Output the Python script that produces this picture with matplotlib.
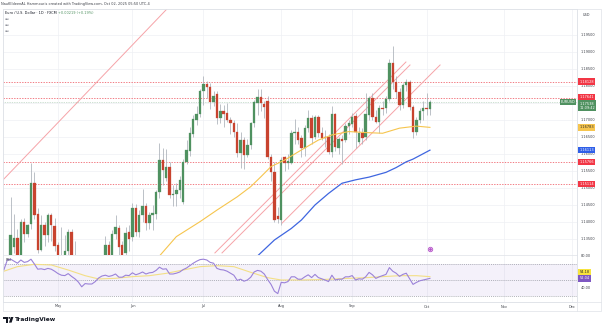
import matplotlib
matplotlib.use("Agg")
import matplotlib.pyplot as plt
import matplotlib.transforms as mtransforms
from matplotlib.patches import Polygon, Rectangle, Circle
import numpy as np
import pandas as pd

# EUR/USD daily candles, FXCM feed, sessions from 9 Apr 2025 to 2 Oct 2025
first_session = "2025-04-09"

opens = [1.1037, 1.0955, 1.1190, 1.1326, 1.1352, 1.1285, 1.1400, 1.1364, 1.1394, 1.1514,
         1.1423, 1.1318, 1.1391, 1.1362, 1.1420, 1.1388, 1.1332, 1.1290, 1.1298, 1.1316,
         1.1371, 1.1300, 1.1226, 1.1250, 1.1089, 1.1185, 1.1173, 1.1187, 1.1163, 1.1243,
         1.1285, 1.1332, 1.1282, 1.1364, 1.1382, 1.1332, 1.1310, 1.1370, 1.1357, 1.1440,
         1.1371, 1.1420, 1.1447, 1.1396, 1.1420, 1.1423, 1.1489, 1.1582, 1.1528, 1.1563,
         1.1479, 1.1482, 1.1494, 1.1458, 1.1577, 1.1610, 1.1659, 1.1700, 1.1718, 1.1786,
         1.1806, 1.1798, 1.1754, 1.1776, 1.1707, 1.1726, 1.1720, 1.1700, 1.1690, 1.1666,
         1.1603, 1.1641, 1.1597, 1.1627, 1.1690, 1.1751, 1.1768, 1.1747, 1.1756, 1.1590,
         1.1548, 1.1418, 1.1406, 1.1592, 1.1573, 1.1574, 1.1661, 1.1666, 1.1646, 1.1617,
         1.1676, 1.1705, 1.1651, 1.1710, 1.1661, 1.1650, 1.1651, 1.1607, 1.1718, 1.1617,
         1.1645, 1.1641, 1.1682, 1.1688, 1.1712, 1.1636, 1.1663, 1.1651, 1.1715, 1.1764,
         1.1710, 1.1695, 1.1735, 1.1734, 1.1762, 1.1867, 1.1813, 1.1783, 1.1744, 1.1803,
         1.1813, 1.1737, 1.1666, 1.1700, 1.1727, 1.1734, 1.1732]
highs = [1.1100, 1.1214, 1.1474, 1.1424, 1.1380, 1.1408, 1.1412, 1.1395, 1.1573, 1.1548,
         1.1441, 1.1420, 1.1400, 1.1425, 1.1425, 1.1412, 1.1340, 1.1385, 1.1363, 1.1380,
         1.1380, 1.1345, 1.1275, 1.1260, 1.1200, 1.1265, 1.1228, 1.1210, 1.1287, 1.1295,
         1.1360, 1.1345, 1.1375, 1.1420, 1.1390, 1.1345, 1.1385, 1.1390, 1.1455, 1.1453,
         1.1435, 1.1497, 1.1455, 1.1430, 1.1450, 1.1495, 1.1632, 1.1617, 1.1615, 1.1575,
         1.1510, 1.1515, 1.1535, 1.1585, 1.1641, 1.1680, 1.1715, 1.1742, 1.1790, 1.1828,
         1.1815, 1.1808, 1.1785, 1.1786, 1.1747, 1.1745, 1.1750, 1.1710, 1.1700, 1.1690,
         1.1665, 1.1650, 1.1645, 1.1695, 1.1760, 1.1792, 1.1790, 1.1755, 1.1770, 1.1600,
         1.1575, 1.1445, 1.1590, 1.1595, 1.1600, 1.1670, 1.1703, 1.1680, 1.1655, 1.1685,
         1.1729, 1.1715, 1.1715, 1.1715, 1.1680, 1.1670, 1.1660, 1.1741, 1.1722, 1.1650,
         1.1655, 1.1690, 1.1700, 1.1720, 1.1722, 1.1680, 1.1675, 1.1780, 1.1770, 1.1780,
         1.1730, 1.1745, 1.1755, 1.1770, 1.1880, 1.1918, 1.1830, 1.1795, 1.1810, 1.1820,
         1.1818, 1.1745, 1.1710, 1.1735, 1.1755, 1.1779, 1.1760]
lows = [1.0955, 1.0950, 1.1190, 1.1310, 1.1264, 1.1265, 1.1342, 1.1355, 1.1380, 1.1410,
        1.1310, 1.1315, 1.1330, 1.1340, 1.1345, 1.1315, 1.1265, 1.1270, 1.1290, 1.1300,
        1.1280, 1.1200, 1.1195, 1.1065, 1.1082, 1.1165, 1.1130, 1.1130, 1.1150, 1.1210,
        1.1270, 1.1250, 1.1265, 1.1350, 1.1290, 1.1265, 1.1210, 1.1315, 1.1345, 1.1360,
        1.1355, 1.1400, 1.1375, 1.1380, 1.1376, 1.1410, 1.1470, 1.1510, 1.1520, 1.1470,
        1.1448, 1.1448, 1.1470, 1.1452, 1.1570, 1.1595, 1.1650, 1.1685, 1.1710, 1.1745,
        1.1766, 1.1733, 1.1740, 1.1687, 1.1690, 1.1680, 1.1695, 1.1658, 1.1650, 1.1590,
        1.1560, 1.1555, 1.1590, 1.1615, 1.1680, 1.1715, 1.1725, 1.1705, 1.1585, 1.1520,
        1.1400, 1.1398, 1.1391, 1.1550, 1.1555, 1.1570, 1.1630, 1.1630, 1.1590, 1.1595,
        1.1665, 1.1630, 1.1645, 1.1650, 1.1640, 1.1620, 1.1600, 1.1590, 1.1610, 1.1600,
        1.1571, 1.1635, 1.1660, 1.1680, 1.1617, 1.1630, 1.1630, 1.1640, 1.1700, 1.1700,
        1.1690, 1.1663, 1.1715, 1.1720, 1.1755, 1.1790, 1.1765, 1.1728, 1.1735, 1.1785,
        1.1730, 1.1646, 1.1655, 1.1690, 1.1700, 1.1715, 1.1715]
closes = [1.0955, 1.1190, 1.1362, 1.1352, 1.1285, 1.1400, 1.1364, 1.1392, 1.1514, 1.1420,
          1.1318, 1.1391, 1.1363, 1.1420, 1.1392, 1.1329, 1.1290, 1.1298, 1.1316, 1.1371,
          1.1300, 1.1226, 1.1250, 1.1089, 1.1185, 1.1173, 1.1187, 1.1163, 1.1243, 1.1285,
          1.1332, 1.1282, 1.1364, 1.1386, 1.1327, 1.1292, 1.1368, 1.1349, 1.1442, 1.1371,
          1.1420, 1.1447, 1.1396, 1.1420, 1.1425, 1.1489, 1.1582, 1.1553, 1.1563, 1.1479,
          1.1482, 1.1495, 1.1523, 1.1577, 1.1612, 1.1662, 1.1703, 1.1718, 1.1786, 1.1806,
          1.1798, 1.1754, 1.1771, 1.1707, 1.1725, 1.1719, 1.1700, 1.1690, 1.1666, 1.1603,
          1.1641, 1.1597, 1.1627, 1.1690, 1.1754, 1.1768, 1.1750, 1.1739, 1.1590, 1.1548,
          1.1406, 1.1410, 1.1582, 1.1573, 1.1578, 1.1661, 1.1666, 1.1641, 1.1617, 1.1676,
          1.1705, 1.1647, 1.1710, 1.1661, 1.1647, 1.1648, 1.1607, 1.1718, 1.1621, 1.1643,
          1.1639, 1.1682, 1.1690, 1.1710, 1.1666, 1.1662, 1.1646, 1.1717, 1.1764, 1.1710,
          1.1695, 1.1734, 1.1733, 1.1762, 1.1867, 1.1813, 1.1783, 1.1744, 1.1803, 1.1813,
          1.1737, 1.1666, 1.1700, 1.1727, 1.1734, 1.17319, 1.17538]

# RSI(14), one value per session
rsi14 = [63, 75, 76, 73.5, 71, 75, 72, 73, 76, 70,
         63.5, 64, 63, 64.5, 63.5, 61, 58, 56, 55.5, 58,
         54.5, 51.5, 47.5, 41.5, 45.5, 45, 45, 48, 52.5, 55,
         56, 54.5, 55.5, 57.5, 53.5, 53.5, 56, 55.5, 59, 56.5,
         58, 60, 57.5, 59, 59.5, 62, 66, 63.5, 64, 57.5,
         57.5, 58.5, 60, 63, 65, 68, 71, 73.5, 75.5, 76,
         75, 72, 71, 64.5, 63, 62.5, 61, 58.5, 56, 49.5,
         51, 48.5, 50, 53.5, 60, 62, 61, 57.5, 50.5, 44.5,
         36, 33, 47, 46.5, 48, 54, 54, 51, 51, 54,
         56.5, 53, 57, 53, 51.5, 50, 48, 56, 50, 51,
         51, 54, 54, 55.5, 50, 51.5, 51, 54, 59.5, 56.5,
         52, 54, 55.5, 57, 65.5, 61, 58.5, 54.5, 57, 58.5,
         51.5, 44.5, 47, 49, 50, 51, 52.04]

# RSI-based moving average, read at sparse sessions
rsi_ma_bars = [0, 4, 9, 14, 19, 24, 28, 33, 38, 43, 48, 53, 58, 63, 68, 73, 78, 82,
               88, 93, 98, 102, 107, 112, 117, 122, 126]
rsi_ma = [61, 66.7, 69.6, 68.8, 62.5, 55.4, 51.3, 52.1, 54.2, 55.4, 58.3, 62.5, 66.7,
          67.9, 66.7, 59.6, 52.9, 50.0, 50.0, 50.4, 51.3, 52.1, 52.9, 54.2, 55.4, 55.4, 54.18]

# price moving averages, read at sparse sessions
sma50_bars = [46, 51, 58, 63, 69, 73, 76, 79, 83, 88, 93, 97, 102, 107, 112, 117, 122, 126]
sma50 = [1.1300, 1.1357, 1.1401, 1.1435, 1.1474, 1.1504, 1.1533, 1.1563, 1.1582, 1.1612,
         1.1641, 1.1656, 1.1666, 1.1663, 1.1661, 1.1676, 1.1682, 1.16783]
sma100_bars = [75, 80, 85, 88, 92, 96, 100, 104, 108, 113, 116, 119, 121, 126]
sma100 = [1.1300, 1.1347, 1.1381, 1.1406, 1.1450, 1.1484, 1.1514, 1.1524, 1.1532, 1.1546,
          1.1560, 1.1577, 1.1585, 1.16113]

# horizontal support / resistance levels
levels = [1.18128, 1.17641, 1.15766, 1.15114]

# hand-drawn trend lines: (bar, price) anchors
trend_lines = [
    ((-0.3, 1.15235), (48.2, 1.20265)),
    ((62.4, 1.1309), (118.9, 1.18706)),
    ((64.5, 1.1309), (120.1, 1.18618)),
    ((82.3, 1.1397), (129.0, 1.18618)),
]

last_change = "+0.00219 (+0.19%)"
countdown = "11:09:42"
month_names = ["May", "Jun", "Jul", "Aug", "Sep", "Oct", "Nov", "Dec"]

UP = "#4f9160"
DOWN = "#c8432f"
WICK = "#aab0b8"
GRID = "#eef0f4"
FRAME = "#dfe2e8"
LEVEL = "#f0646e"
TREND = "#f6a3a8"
TXT = "#3c3f47"
FS = 2.5

W, H = 602, 330
fig = plt.figure(figsize=(W / 100, H / 100), dpi=100)
fig.patch.set_facecolor("white")


def box(x0, y0, x1, y1):
    return fig.add_axes([x0 / W, 1 - y1 / H, (x1 - x0) / W, (y1 - y0) / H])


ax = box(3, 9, 577, 255)
ax_rsi = box(3, 255, 577, 302)
ax_ps = box(577, 9, 601, 255)
ax_rs = box(577, 255, 601, 302)

n = len(closes)
x = np.arange(n)
o, h, l, c = map(np.array, (opens, highs, lows, closes))

sessions = pd.bdate_range(first_session, "2025-12-31")
month_pos = [int(np.flatnonzero(sessions.month == m)[0]) for m in range(5, 13)]

xlim = (-0.28, 169.5)
p_lim = (1.13029, 1.20265)
r_lim = (22.5, 81.25)

for a in (ax, ax_rsi):
    a.set_xlim(*xlim)
    a.set_facecolor("white")
    for s in a.spines.values():
        s.set_color(FRAME)
        s.set_linewidth(0.5)
    a.tick_params(length=0, labelleft=False, labelbottom=False)
    a.set_yticks([])
    for m in month_pos:
        a.axvline(m, color=GRID, lw=0.5, zorder=0)
ax.set_ylim(*p_lim)
ax_rsi.set_ylim(*r_lim)

price_ticks = np.round(np.arange(1.135, 1.1951, 0.005), 3)
for t in price_ticks:
    ax.axhline(t, color=GRID, lw=0.5, zorder=0)

# candles
up = c >= o
colors = np.where(up, UP, DOWN)
ax.vlines(x, l, h, color=WICK, lw=0.55, zorder=2)
body_lo = np.minimum(o, c)
body_h = np.maximum(np.abs(c - o), 0.00004)
ax.bar(x, body_h, bottom=body_lo, width=0.72, color=colors, edgecolor=colors,
       linewidth=0.2, zorder=3)

# moving averages
ax.plot(sma50_bars, sma50, color="#f6c54e", lw=0.8, zorder=4)
ax.plot(sma100_bars, sma100, color="#3f66e0", lw=0.9, zorder=4)

# levels and drawings
for lv in levels:
    ax.axhline(lv, color=LEVEL, lw=0.6, ls=(0, (1.6, 1.6)), zorder=1)
for (x0, y0), (x1, y1) in trend_lines:
    ax.plot([x0, x1], [y0, y1], color=TREND, lw=0.7, zorder=1)
ax.axhline(c[-1], color=UP, lw=0.5, ls=(0, (1, 1.5)), alpha=0.55, zorder=1)

# event marker near the bottom of the price pane
ev = mtransforms.blended_transform_factory(ax.transData, ax.transAxes)
ax.plot([126], [0.025], transform=ev, marker="o", ms=3.2, mfc="white",
        mec="#b450c8", mew=0.6, zorder=6, clip_on=False)
ax.plot([126], [0.025], transform=ev, marker="o", ms=1.0, color="#b450c8", zorder=7,
        clip_on=False)

ax.annotate("EURUSD", xy=(1.0, c[-1]), xycoords=("axes fraction", "data"),
            xytext=(-1.2, 0), textcoords="offset points", ha="right", va="center",
            fontsize=FS, color="white", zorder=8,
            bbox=dict(boxstyle="square,pad=0.3", fc=UP, ec="none"))

# RSI pane
ax_rsi.axhspan(30, 70, color="#7e57c2", alpha=0.08, lw=0, zorder=0)
for lv in (70, 50, 30):
    ax_rsi.axhline(lv, color="#9598a1", lw=0.5, ls=(0, (1.5, 1.5)), zorder=1)
ax_rsi.plot(rsi_ma_bars, rsi_ma, color="#f3df86", lw=0.8, zorder=2)
ax_rsi.plot(x, rsi14, color="#9b82d8", lw=0.8, zorder=3)
ax_rsi.text(0.005, 0.93, "RSI", transform=ax_rsi.transAxes, fontsize=FS, color=TXT,
            va="top", ha="left")

# time axis
ax_rsi.set_xticks(month_pos)
ax_rsi.set_xticklabels(month_names)
ax_rsi.tick_params(axis="x", labelbottom=True, labelsize=FS, labelcolor=TXT, pad=1.8)

# price scale
for a, lim in ((ax_ps, p_lim), (ax_rs, r_lim)):
    a.set_ylim(*lim)
    a.set_xlim(0, 1)
    a.axis("off")

# 1.175 sits under the last-price tag, so it is not written
for t in price_ticks:
    if abs(t - 1.175) < 1e-6:
        continue
    ax_ps.text(0.14, t, f"{t:.5f}", fontsize=FS, color=TXT, va="center", ha="left", zorder=2)
ax_ps.text(0.25, 1.2010, "USD", fontsize=FS, color=TXT, va="center", ha="left")


def tag(a, y, text, face, fg="white", dy=0.0):
    a.annotate(text, xy=(0.1, y), xycoords=("axes fraction", "data"),
               xytext=(0, dy), textcoords="offset points", ha="left", va="center",
               fontsize=FS, color=fg, zorder=6, annotation_clip=False,
               linespacing=1.1,
               bbox=dict(boxstyle="square,pad=0.35", fc=face, ec="none"))


tag(ax_ps, levels[0], f"{levels[0]:.5f}", "#f23645")
tag(ax_ps, levels[1], f"{levels[1]:.5f}", "#f23645", dy=1.0)
tag(ax_ps, c[-1], f"{c[-1]:.5f}\n{countdown}", UP, dy=-2.9)
tag(ax_ps, sma50[-1], f"{sma50[-1]:.5f}", "#f6c54e", fg="#2a2a2a")
tag(ax_ps, sma100[-1], f"{sma100[-1]:.5f}", "#2f5fe8")
tag(ax_ps, levels[2], f"{levels[2]:.5f}", "#f23645")
tag(ax_ps, levels[3], f"{levels[3]:.5f}", "#f23645")

for t in (80, 40):
    ax_rs.text(0.14, t, f"{t:.2f}", fontsize=FS, color=TXT, va="center", ha="left")
tag(ax_rs, rsi_ma[-1], f"{rsi_ma[-1]:.2f}", "#f7e43e", fg="#2a2a2a", dy=3.2)
tag(ax_rs, rsi14[-1], f"{rsi14[-1]:.2f}", "#7e57c2")

# outer frame and separators
frame = fig.add_axes([0, 0, 1, 1], facecolor="none")
frame.set_xlim(0, W)
frame.set_ylim(H, 0)
frame.axis("off")
frame.plot([3, 601, 601, 3, 3], [8.5, 8.5, 311, 311, 8.5], color=FRAME, lw=0.5)
frame.plot([577, 577], [8.5, 311], color=FRAME, lw=0.5)
frame.plot([3, 601], [302, 302], color=FRAME, lw=0.5)

# header texts
frame.text(1, 4, "NaufEldeenAL Hammouris created with TradingView.com, Oct 02, 2025 05:50 UTC-4",
           fontsize=FS, color=TXT, va="center", ha="left")
frame.text(5, 13.5, "Euro / U.S. Dollar · 1D · FXCM", fontsize=FS, color="#131722",
           va="center", ha="left")
frame.text(58, 13.5, last_change, fontsize=FS, color=UP, va="center", ha="left")
for yy in (19.5, 25, 30.5):
    frame.text(5, yy, "▫▫", fontsize=FS, color="#787b86", va="center", ha="left")

# TradingView logo mark, then the word mark
logo = "#131722"
frame.add_patch(Rectangle((3.2, 317.0), 4.6, 1.6, color=logo, lw=0))
frame.add_patch(Rectangle((5.6, 317.0), 2.2, 5.6, color=logo, lw=0))
frame.add_patch(Circle((9.3, 317.9), 0.9, color=logo, lw=0))
frame.add_patch(Polygon([(10.8, 317.0), (13.4, 317.0), (11.6, 322.6), (9.0, 322.6)],
                        closed=True, color=logo, lw=0))
frame.text(15, 319.8, "TradingView", fontsize=4.2, color=logo, va="center", ha="left",
           fontweight="bold")

fig.savefig("out.png", dpi=100)
